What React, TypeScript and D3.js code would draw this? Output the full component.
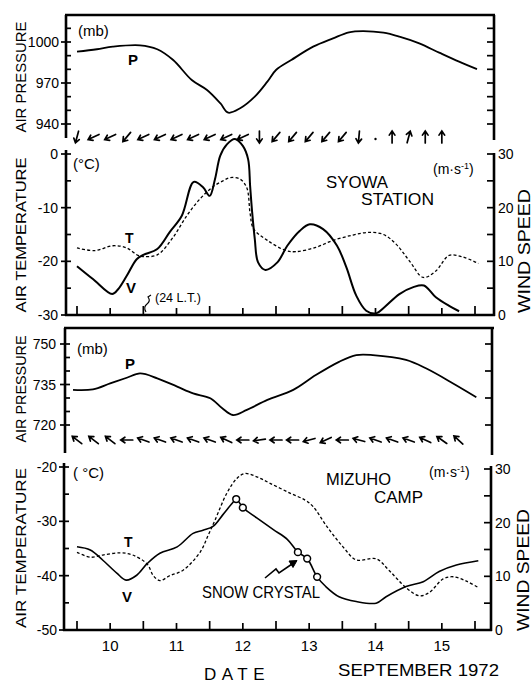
import React from "react";
import * as d3 from "d3";

const W = 532;
const H = 684;
const FONT = "'Liberation Sans', Arial, Helvetica, sans-serif";

// ---------- data (time = day of September 1972, 10.0 = 00 LT Sept 10) ----------
const dayTicks = d3.range(10, 16.01, 0.5);
const dayLabels = [10, 11, 12, 13, 14, 15];

const syowaPressure: [number, number][] = [
  [10.0, 992.9], [10.3, 994.7], [10.54, 996.6], [10.95, 997.6], [11.21, 994.7],
  [11.45, 986.8], [11.73, 972.2], [11.96, 964.9], [12.16, 955.2], [12.28, 948.3],
  [12.46, 951.5], [12.68, 960], [12.87, 971], [13.0, 979.5], [13.23, 986.8],
  [13.56, 996.6], [13.86, 1002.7], [14.1, 1007.1], [14.31, 1008], [14.62, 1006.8],
  [14.86, 1003.9], [15.16, 999], [15.46, 992.2], [15.76, 985.6], [16.03, 980.2],
];

const syowaTemp: [number, number][] = [
  [10.0, -17.5], [10.27, -18.0], [10.54, -17.1], [10.75, -17.5], [10.92, -18.9],
  [11.0, -19.1], [11.21, -18.8], [11.45, -15.5], [11.66, -11.4], [11.86, -8.3],
  [12.05, -6.1], [12.2, -5.0], [12.31, -4.4], [12.46, -4.7], [12.56, -6.3],
  [12.61, -11.1], [12.66, -13.9], [12.87, -16.1], [13.15, -18.0], [13.3, -18.2],
  [13.6, -17.4], [13.86, -16.1], [14.16, -15.1], [14.4, -14.6], [14.62, -15.0],
  [14.81, -16.8], [15.01, -19.9], [15.22, -23.0], [15.41, -21.8], [15.61, -18.9],
  [15.82, -19.2], [16.05, -20.4],
];

const syowaWind: [number, number][] = [
  [10.0, 9.1], [10.24, 6.7], [10.53, 3.9], [10.62, 4.8], [10.75, 7.3],
  [10.9, 10.4], [11.0, 11.2], [11.21, 12.3], [11.4, 15.5], [11.58, 18.5],
  [11.76, 24.8], [11.9, 23.8], [12.0, 22.2], [12.08, 25.3], [12.16, 29.7],
  [12.26, 31.8], [12.38, 32.8], [12.5, 31.5], [12.58, 29.0], [12.61, 24.0],
  [12.64, 19.2], [12.68, 14.2], [12.73, 9.8], [12.84, 8.4], [13.02, 9.8],
  [13.17, 12.9], [13.36, 15.7], [13.51, 16.9], [13.71, 16.0], [13.92, 12.9],
  [14.06, 8.9], [14.21, 3.6], [14.36, 0.8], [14.51, 0.3], [14.63, 1.4],
  [14.86, 3.9], [15.07, 5.2], [15.23, 5.5], [15.41, 3.3], [15.61, 1.7], [15.76, 0.7],
];

// wind direction arrows every 6 h (screen angle the arrow points to, null = calm)
const syowaArrowDir: (number | null)[] = [
  105, 155, 155, 130, 155, 155, 155, 155, 155, 155, 155, 90,
  130, 130, 130, 130, 130, 95, null, -90, -75, -90, -90,
];

const mizuhoPressure: [number, number][] = [
  [9.94, 733], [10.24, 733.2], [10.5, 735.4], [10.75, 737.5], [10.95, 739.1],
  [11.21, 737.3], [11.51, 734.2], [11.75, 731.7], [12.01, 729.9], [12.19, 726.2],
  [12.35, 723.7], [12.56, 725.6], [12.87, 729.3], [13.26, 733], [13.6, 738.5],
  [13.95, 743.4], [14.21, 745.9], [14.46, 745.9], [14.96, 744.1], [15.26, 741],
  [15.67, 735.4], [16.02, 730.3],
];

const mizuhoTemp: [number, number][] = [
  [10.0, -35.7], [10.2, -36.6], [10.39, -36.2], [10.65, -35.8], [10.84, -36.2],
  [11.06, -37.9], [11.15, -40.0], [11.25, -40.9], [11.4, -40.0], [11.6, -39.0],
  [11.86, -35.6], [11.98, -32.5], [12.08, -29.8], [12.26, -24.8], [12.41, -22.1],
  [12.53, -21.2], [12.71, -21.8], [12.91, -23.0], [13.21, -24.8], [13.44, -26.1],
  [13.56, -27.3], [13.77, -31.0], [14.01, -34.7], [14.21, -37.1], [14.51, -36.9],
  [14.71, -39.1], [14.96, -42.2], [15.16, -43.7], [15.31, -43.1], [15.52, -40.6],
  [15.67, -40.2], [15.87, -41.0], [16.05, -42.2],
];

const mizuhoWind: [number, number][] = [
  [10.0, 15.5], [10.2, 14.9], [10.39, 13.0], [10.6, 10.6], [10.74, 9.3],
  [10.9, 10.2], [11.06, 12.4], [11.25, 14.3], [11.51, 15.5], [11.75, 18.0],
  [11.9, 18.6], [12.05, 19.3], [12.2, 21.5], [12.34, 23.6], [12.4, 24.4],
  [12.5, 22.8], [12.71, 20.9], [12.96, 18.7], [13.17, 16.9], [13.33, 14.5],
  [13.47, 13.3], [13.62, 9.9], [13.75, 8.1], [13.95, 6.2], [14.21, 5.3],
  [14.51, 5.0], [14.66, 6.2], [14.96, 8.1], [15.22, 9.0], [15.46, 10.9],
  [15.72, 12.1], [16.05, 12.9],
];

const snowCrystal: [number, number][] = [
  [12.4, 24.4], [12.5, 22.8], [13.33, 14.5], [13.47, 13.3], [13.62, 9.9],
];

const mizuhoArrowDir: (number | null)[] = [
  218, 218, 218, 180, 200, 200, 200, 200, 200, 205, 180, 172,
  180, 180, 165, 155, 180, 195, 200, 200, 200, 205, 215, 222,
];

// ---------- scales ----------
const x = d3.scaleLinear().domain([10, 16]).range([77, 475]);
const yP1 = d3.scaleLinear().domain([940, 1000]).range([124, 42]);
const yT1 = d3.scaleLinear().domain([-30, 0]).range([315, 154]);
const yW1 = d3.scaleLinear().domain([0, 30]).range([315, 154]);
const yP2 = d3.scaleLinear().domain([720, 750]).range([425, 344]);
const yT2 = d3.scaleLinear().domain([-50, -20]).range([630, 467]);
const yW2 = d3.scaleLinear().domain([0, 30]).range([630, 469]);

const mkLine = (ys: d3.ScaleLinear<number, number>) =>
  d3
    .line<[number, number]>()
    .x((d) => x(d[0]))
    .y((d) => ys(d[1]))
    .curve(d3.curveCatmullRom.alpha(0.5));

const AX = 2.6;

function LeftTicks({ ax, scale, major, minor, fmt, labelX }: any) {
  return (
    <g>
      {major.map((v: number) => (
        <g key={"M" + v}>
          <line x1={ax - 5} x2={ax + 5} y1={scale(v)} y2={scale(v)} stroke="#000" strokeWidth={1.7} />
          <text x={labelX} y={scale(v) + 5} textAnchor="end" fontSize={14} fontFamily={FONT}>
            {fmt ? fmt(v) : v}
          </text>
        </g>
      ))}
      {minor.map((v: number) => (
        <line key={"m" + v} x1={ax} x2={ax + 5} y1={scale(v)} y2={scale(v)} stroke="#000" strokeWidth={1.7} />
      ))}
    </g>
  );
}

function RightTicks({ ax, scale, ticks, labels }: any) {
  return (
    <g>
      {ticks.map((v: number) => (
        <line key={"t" + v} x1={ax - 7} x2={ax} y1={scale(v)} y2={scale(v)} stroke="#000" strokeWidth={1.7} />
      ))}
      {labels.map((v: number) => (
        <text key={"l" + v} x={ax + 4} y={scale(v) + 5} fontSize={14} fontFamily={FONT}>
          {v}
        </text>
      ))}
    </g>
  );
}

function Arrows({ dirs, y, which }: any) {
  const L = 12;
  return (
    <g stroke="#000" strokeWidth={1.7} fill="none" strokeLinecap="round">
      {dirs.map((a: number | null, k: number) => {
        const t = 10 + k / 4;
        const cx = x(t);
        if (a === null)
          return <circle key={which + k} cx={cx} cy={y + 2} r={1.2} fill="#000" stroke="none" />;
        const r = (a * Math.PI) / 180;
        const dx = Math.cos(r), dy = Math.sin(r);
        const tx = cx + (dx * L) / 2, ty = y + (dy * L) / 2;
        const sx = cx - (dx * L) / 2, sy = y - (dy * L) / 2;
        const h = 5;
        const a1 = r + Math.PI - 0.6, a2 = r + Math.PI + 0.6;
        return (
          <path
            key={which + k}
            d={`M${sx},${sy}L${tx},${ty}M${tx + h * Math.cos(a1)},${ty + h * Math.sin(a1)}L${tx},${ty}L${tx + h * Math.cos(a2)},${ty + h * Math.sin(a2)}`}
          />
        );
      })}
    </g>
  );
}

function XAxisTicks({ y }: any) {
  return (
    <g>
      {dayTicks.map((t) => (
        <line key={t} x1={x(t)} x2={x(t)} y1={y} y2={y - (t % 1 === 0 ? 8 : 6)} stroke="#000" strokeWidth={1.7} />
      ))}
    </g>
  );
}

function VText({ x: tx, y: ty, children, size = 15, len }: any) {
  return (
    <text
      transform={`translate(${tx},${ty}) rotate(-90)`}
      textAnchor="middle"
      fontSize={size}
      fontFamily={FONT}
      textLength={len}
      lengthAdjust={len ? "spacingAndGlyphs" : undefined}
    >
      {children}
    </text>
  );
}

export default function App() {
  const lP1 = mkLine(yP1);
  const lT1 = mkLine(yT1);
  const lW1 = mkLine(yW1);
  const lP2 = mkLine(yP2);
  const lT2 = mkLine(yT2);
  const lW2 = mkLine(yW2);
  const txt = { fontFamily: FONT, fill: "#000" };

  return (
    <svg width={W} height={H} viewBox={`0 0 ${W} ${H}`} style={{ position: "absolute", left: 0, top: 0, background: "#fff" }}>
      <rect x={0} y={0} width={W} height={H} fill="#fff" />

      {/* ================= SYOWA ================= */}
      <g stroke="#000" strokeWidth={AX} fill="none">
        <line x1={65} x2={495} y1={15} y2={15} />
        <line x1={66} x2={66} y1={15} y2={138} />
        <line x1={494} x2={494} y1={15} y2={140} />
        <line x1={66} x2={66} y1={150} y2={316} />
        <line x1={65} x2={495} y1={315} y2={315} />
        <line x1={494} x2={494} y1={153} y2={316} />
      </g>
      <LeftTicks ax={66} scale={yP1} major={[940, 970, 1000]} minor={[950, 960, 980, 990, 1010]} labelX={59} />
      <RightTicks ax={494} scale={yP1} ticks={[940, 950, 960, 970, 980, 990, 1000, 1010]} labels={[]} />
      <LeftTicks ax={66} scale={yT1} major={[-30, -20, -10, 0]} minor={[-25, -15, -5]} labelX={58} />
      <RightTicks ax={494} scale={yW1} ticks={[0, 5, 10, 15, 20, 25, 30]} labels={[0, 10, 20, 30]} />
      <XAxisTicks y={314} />

      <path d={lP1(syowaPressure) || ""} fill="none" stroke="#000" strokeWidth={1.8} />
      <path d={lT1(syowaTemp) || ""} fill="none" stroke="#000" strokeWidth={1.3} strokeDasharray="3,2.2" />
      <path d={lW1(syowaWind) || ""} fill="none" stroke="#000" strokeWidth={2} />
      <Arrows dirs={syowaArrowDir} y={137} which="s" />

      <VText x={26} y={77} size={15} len={111}>AIR PRESSURE</VText>
      <VText x={26} y={235} size={15} len={155}>AIR TEMPERATURE</VText>
      <VText x={530} y={251} size={16} len={124}>WIND SPEED</VText>

      <text x={78} y={36} fontSize={15} {...txt}>(mb)</text>
      <text x={73} y={169} fontSize={15} {...txt}>(°C)</text>
      <text x={433} y={174} fontSize={14} {...txt}>
        (m·s<tspan dy={-5} fontSize={9}>-1</tspan><tspan dy={5}>)</tspan>
      </text>
      <text x={326} y={188} fontSize={17} textLength={62} lengthAdjust="spacingAndGlyphs" {...txt}>SYOWA</text>
      <text x={361} y={205} fontSize={17} textLength={73} lengthAdjust="spacingAndGlyphs" {...txt}>STATION</text>
      <text x={128} y={65} fontSize={15} fontWeight="bold" {...txt}>P</text>
      <text x={125} y={243} fontSize={14} fontWeight="bold" {...txt}>T</text>
      <text x={126} y={293} fontSize={15} fontWeight="bold" {...txt}>V</text>
      <text x={155} y={302} fontSize={12.5} {...txt}>(24 L.T.)</text>
      <path d="M146,312 q-3,-5 1,-8 q4,-3 1,-7 l3,-2" fill="none" stroke="#000" strokeWidth={1.1} />

      {/* ================= MIZUHO ================= */}
      <g stroke="#000" strokeWidth={AX} fill="none">
        <line x1={64} x2={494} y1={328} y2={328} />
        <line x1={65} x2={65} y1={328} y2={453} />
        <line x1={492} x2={492} y1={328} y2={455} />
        <line x1={64} x2={64} y1={463} y2={631} />
        <line x1={63} x2={492} y1={630} y2={630} />
        <line x1={491} x2={491} y1={466} y2={631} />
      </g>
      <LeftTicks ax={65} scale={yP2} major={[720, 735, 750]} minor={[725, 730, 740, 745]} labelX={56} />
      <RightTicks ax={492} scale={yP2} ticks={[720, 730, 740, 750]} labels={[]} />
      <LeftTicks ax={64} scale={yT2} major={[-50, -40, -30, -20]} minor={[-45, -35, -25]} labelX={57} />
      <RightTicks ax={491} scale={yW2} ticks={[0, 5, 10, 15, 20, 25, 30]} labels={[0, 10, 20, 30]} />
      <XAxisTicks y={629} />

      <path d={lP2(mizuhoPressure) || ""} fill="none" stroke="#000" strokeWidth={1.8} />
      <path d={lT2(mizuhoTemp) || ""} fill="none" stroke="#000" strokeWidth={1.3} strokeDasharray="3,2.2" />
      <path d={lW2(mizuhoWind) || ""} fill="none" stroke="#000" strokeWidth={1.6} />
      {snowCrystal.map((d, i) => (
        <circle key={i} cx={x(d[0])} cy={yW2(d[1])} r={3.4} fill="#fff" stroke="#000" strokeWidth={1.5} />
      ))}
      <Arrows dirs={mizuhoArrowDir} y={440} which="m" />

      <VText x={26} y={389} size={15} len={107}>AIR PRESSURE</VText>
      <VText x={26} y={548} size={15} len={160}>AIR TEMPERATURE</VText>
      <VText x={529} y={570} size={16} len={122}>WIND SPEED</VText>

      <text x={77} y={354} fontSize={15} {...txt}>(mb)</text>
      <text x={73} y={478} fontSize={15} {...txt}>( °C)</text>
      <text x={429} y={477} fontSize={14} {...txt}>
        (m·s<tspan dy={-5} fontSize={9}>-1</tspan><tspan dy={5}>)</tspan>
      </text>
      <text x={326} y={485} fontSize={17} textLength={65} lengthAdjust="spacingAndGlyphs" {...txt}>MIZUHO</text>
      <text x={374} y={503} fontSize={17} textLength={49} lengthAdjust="spacingAndGlyphs" {...txt}>CAMP</text>
      <text x={125} y={369} fontSize={15} fontWeight="bold" {...txt}>P</text>
      <text x={124} y={547} fontSize={14} fontWeight="bold" {...txt}>T</text>
      <text x={122} y={602} fontSize={15} fontWeight="bold" {...txt}>V</text>
      <text x={202} y={598} fontSize={17} textLength={118} lengthAdjust="spacingAndGlyphs" {...txt}>SNOW CRYSTAL</text>
      <path d="M265,578 L276,569 L279,573 L295,562" fill="none" stroke="#000" strokeWidth={1.6} />
      <path d="M289,561 L297,560.5 L293,567.5 Z" fill="#000" stroke="#000" strokeWidth={1} />

      {/* bottom axis labels */}
      {dayLabels.map((d) => (
        <text key={d} x={x(d + 0.5)} y={651} textAnchor="middle" fontSize={15} {...txt}>
          {d}
        </text>
      ))}
      <text x={204} y={680} fontSize={17} letterSpacing={5.5} {...txt}>DATE</text>
      <text x={338} y={676} fontSize={17} textLength={161} lengthAdjust="spacingAndGlyphs" {...txt}>SEPTEMBER 1972</text>
    </svg>
  );
}
